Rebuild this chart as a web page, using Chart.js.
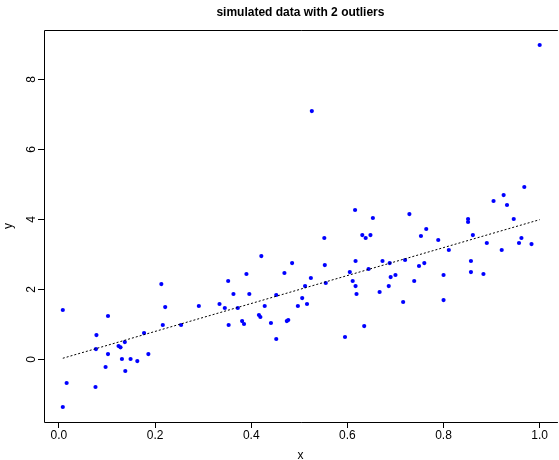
<!DOCTYPE html>
<html>
<head>
<meta charset="utf-8">
<script src="https://cdn.jsdelivr.net/npm/chart.js@4.4.1/dist/chart.umd.min.js"></script>
<style>
html,body{margin:0;padding:0;background:#fff;}
canvas{display:block;}
</style>
</head>
<body>
<canvas id="c" width="559" height="460"></canvas>
<script>
const titleText = "simulated data with 2 outliers";
const xLabel = "x";
const yLabel = "y";
const xTicks = [0, 0.2, 0.4, 0.6, 0.8, 1.0];
const xTickLabels = ["0.0", "0.2", "0.4", "0.6", "0.8", "1.0"];
const yTicks = [0, 2, 4, 6, 8];
const yTickLabels = ["0", "2", "4", "6", "8"];

const xValues = [
  0.008, 0.213, 0.102, 0.221, 0.291, 0.334, 0.078, 0.216, 0.254, 0.177,
  0.077, 0.137, 0.124, 0.128, 0.102, 0.186, 0.131, 0.149, 0.163, 0.097,
  0.138, 0.016, 0.076, 0.008, 0.345, 0.352, 0.363, 0.372, 0.390, 0.396,
  0.421, 0.353, 0.381, 0.385, 0.416, 0.419, 0.428, 0.452, 0.469, 0.485,
  0.441, 0.452, 0.474, 0.477, 0.497, 0.506, 0.512, 0.516, 0.524, 0.526,
  0.552, 0.553, 0.555, 0.595, 0.605, 0.611, 0.616, 0.617, 0.617, 0.619,
  0.631, 0.635, 0.638, 0.644, 0.648, 0.653, 0.667, 0.673, 0.686, 0.688,
  0.690, 0.700, 0.716, 0.720, 0.729, 0.739, 0.749, 0.753, 0.760, 0.764,
  0.789, 0.800, 0.800, 0.811, 0.851, 0.851, 0.857, 0.857, 0.861, 0.883,
  0.890, 0.904, 0.921, 0.925, 0.932, 0.946, 0.957, 0.962, 0.968, 0.983,
  1.000
];
const yValues = [
  1.409, 2.151, 1.237, 1.494, 1.523, 1.580, 0.694, 0.980, 0.980, 0.751,
  0.294, 0.494, 0.380, 0.343, 0.151, 0.151, 0.009, 0.009, -0.049, -0.220,
  -0.334, -0.677, -0.791, -1.363, 1.466, 2.237, 1.866, 1.466, 2.437, 1.866,
  2.951, 0.980, 1.094, 1.009, 1.266, 1.209, 1.523, 1.837, 2.466, 2.751,
  1.037, 0.580, 1.094, 1.123, 1.523, 1.751, 2.094, 1.580, 2.323, 7.094,
  3.466, 2.694, 2.180, 0.637, 2.494, 2.237, 4.266, 2.809, 2.094, 1.866,
  3.551, 0.951, 3.466, 2.580, 3.551, 4.037, 1.923, 2.809, 2.094, 2.751,
  2.351, 2.409, 1.637, 2.837, 4.151, 2.237, 2.666, 3.523, 2.751, 3.723,
  3.409, 2.409, 1.694, 3.123, 4.009, 3.923, 2.809, 2.494, 3.551, 2.437,
  3.323, 4.523, 3.123, 4.694, 4.409, 4.009, 3.323, 3.466, 4.923, 3.294,
  8.980
];
const lineX = [0.008, 1.0];
const lineY = [0.03, 3.99];

const FONT = "'Liberation Sans', Arial, Helvetica, sans-serif";

const points = xValues.map((x, i) => ({x: x, y: yValues[i]}));
const linePts = lineX.map((x, i) => ({x: x, y: lineY[i]}));

const framePlugin = {
  id: 'frame',
  afterDraw(chart) {
    const ctx = chart.ctx;
    const a = chart.chartArea;
    ctx.save();
    ctx.strokeStyle = '#000';
    ctx.lineWidth = 1;
    ctx.beginPath();
    ctx.moveTo(a.left + 0.5, a.bottom + 0.5);
    ctx.lineTo(a.left + 0.5, a.top + 0.5);
    ctx.lineTo(a.right + 1, a.top + 0.5);
    ctx.moveTo(a.left + 0.5, a.bottom + 0.5);
    ctx.lineTo(a.right + 1, a.bottom + 0.5);
    ctx.stroke();
    // rotated y tick labels
    const ys = chart.scales.y;
    ctx.fillStyle = '#000';
    ctx.font = '12px ' + FONT;
    ctx.textAlign = 'center';
    ctx.textBaseline = 'alphabetic';
    yTicks.forEach((v, i) => {
      const py = ys.getPixelForValue(v);
      ctx.save();
      ctx.translate(34.5, py);
      ctx.rotate(-Math.PI / 2);
      ctx.fillText(yTickLabels[i], 0, 0);
      ctx.restore();
    });
    ctx.restore();
  }
};

new Chart(document.getElementById('c'), {
  data: {
    datasets: [
      {
        type: 'scatter',
        data: points,
        backgroundColor: '#0000ff',
        borderWidth: 0,
        pointRadius: 2.1,
        pointHoverRadius: 2.1,
        order: 2
      },
      {
        type: 'line',
        data: linePts,
        borderColor: '#000',
        borderWidth: 1,
        borderDash: [2, 2],
        pointRadius: 0,
        fill: false,
        order: 1
      }
    ]
  },
  options: {
    responsive: false,
    animation: false,
    devicePixelRatio: 1,
    layout: {padding: 0},
    plugins: {
      legend: {display: false},
      tooltip: {enabled: false},
      title: {
        display: true,
        text: titleText,
        fullSize: false,
        color: '#000',
        font: {family: FONT, size: 12, weight: 'bold', lineHeight: 1.2},
        padding: {top: 5, bottom: 10.6}
      }
    },
    scales: {
      x: {
        type: 'linear',
        min: -0.0311,
        max: 1.0358,
        afterBuildTicks: (s) => { s.ticks = xTicks.map(v => ({value: v})); },
        afterFit: (s) => { s.height = 38; },
        ticks: {
          includeBounds: false,
          autoSkip: false,
          maxRotation: 0,
          color: '#000',
          padding: 0,
          font: {family: FONT, size: 12},
          callback: (v) => { const i = xTicks.indexOf(v); return i >= 0 ? xTickLabels[i] : ''; }
        },
        grid: {
          display: true,
          drawOnChartArea: false,
          drawTicks: true,
          tickLength: 6,
          color: '#000',
          lineWidth: 1
        },
        border: {display: false},
        title: {
          display: true,
          text: xLabel,
          color: '#000',
          font: {family: FONT, size: 12, lineHeight: 0.75},
          padding: {top: 0, bottom: 0}
        }
      },
      y: {
        type: 'linear',
        min: -1.791,
        max: 9.409,
        afterBuildTicks: (s) => { s.ticks = yTicks.map(v => ({value: v})); },
        afterFit: (s) => { s.width = 44; },
        ticks: {
          display: false,
          includeBounds: false
        },
        grid: {
          display: true,
          drawOnChartArea: false,
          drawTicks: true,
          tickLength: 6,
          color: '#000',
          lineWidth: 1
        },
        border: {display: false},
        title: {
          display: true,
          text: yLabel,
          color: '#000',
          font: {family: FONT, size: 12, lineHeight: 1},
          padding: {top: 3, bottom: 0}
        }
      }
    }
  },
  plugins: [framePlugin]
});
</script>
</body>
</html>
